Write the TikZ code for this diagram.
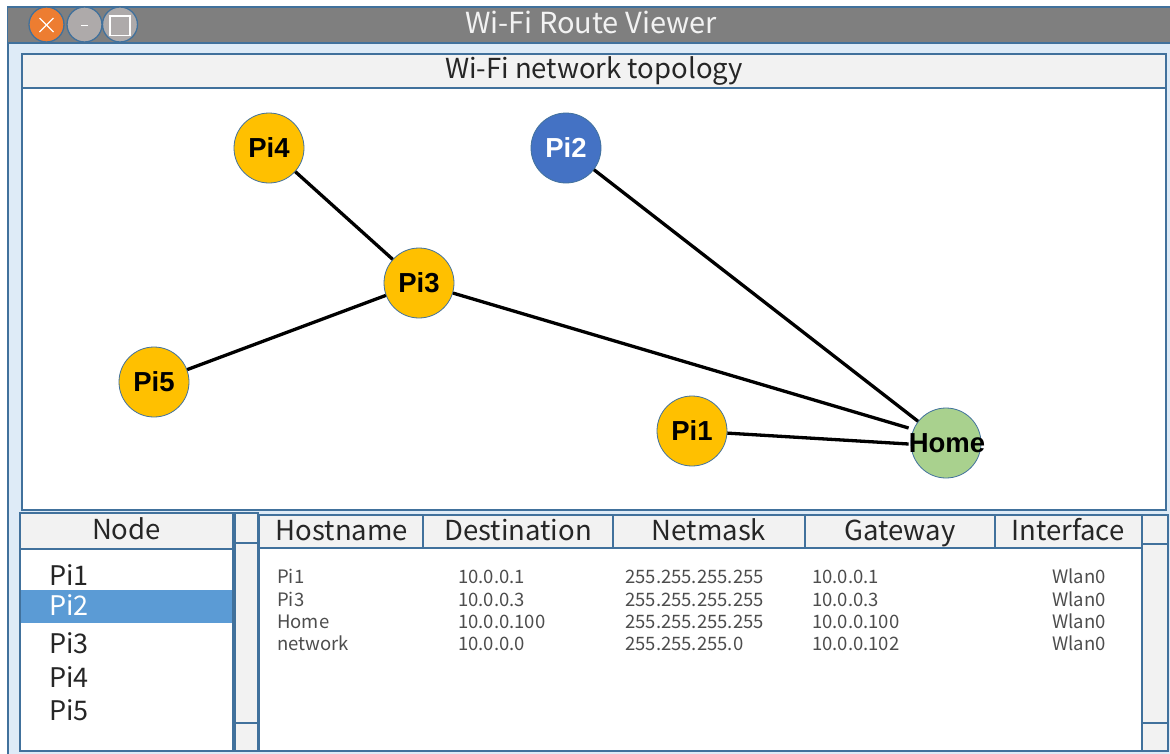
\documentclass[tikz,border=0pt]{standalone}
\usepackage{fontspec}
\setmainfont{Noto Sans CJK JP}
\newfontfamily\boldlabel{Liberation Sans}[BoldFont=* Bold]
\definecolor{frame}{HTML}{41719C}
\definecolor{titlegray}{HTML}{7F7F7F}
\definecolor{winbg}{HTML}{DEEBF7}
\definecolor{panelgray}{HTML}{F2F2F2}
\definecolor{piorange}{HTML}{FFC000}
\definecolor{piblue}{HTML}{4472C4}
\definecolor{homegreen}{HTML}{A9D18E}
\definecolor{closeorange}{HTML}{ED7D31}
\definecolor{btngray}{HTML}{AEAAAA}
\definecolor{selblue}{HTML}{5B9BD5}
\definecolor{txt}{HTML}{262626}
\definecolor{datatxt}{HTML}{4D4D4D}
\tikzset{
  panel/.style={draw=frame, line width=1.3pt},
  winbtn/.style={circle, draw=frame, line width=1.3pt, minimum size=35pt, inner sep=0pt},
  hostnode/.style={circle, draw=frame, line width=0.8pt, minimum size=70pt, inner sep=0pt,
    font=\boldlabel\bfseries\fontsize{27.5}{30}\selectfont},
  link/.style={line width=3.3pt, black},
  headtxt/.style={font=\fontsize{27.5}{30}\selectfont, text=txt, inner sep=0pt, anchor=base},
  listtxt/.style={font=\fontsize{27}{30}\selectfont, text=txt, anchor=base west, inner sep=0pt},
  datatext/.style={font=\fontsize{18.5}{20}\selectfont, text=datatxt, anchor=base west, inner sep=0pt},
}
\begin{document}
\begin{tikzpicture}[x=1pt,y=-1pt]
\useasboundingbox (0,0) rectangle (1170,753);

% window body and title bar
\fill[winbg] (8,43) rectangle (1172,756);
\draw[panel] (8,756) -- (8,7) -- (1172,7);
\fill[titlegray] (8,7) rectangle (1172,43);
\draw[panel] (8,7) -- (1172,7);
\draw[panel] (8,43) -- (1172,43);
\node[headtxt, text=panelgray, font=\fontsize{29}{32}\selectfont] (title) at (591,33) {Wi-Fi Route Viewer};

% window buttons
\node[winbtn, fill=closeorange] (btnclose) at (46.5,24.5) {};
\node[winbtn, fill=btngray] (btnmin) at (84.5,24.5) {};
\node[winbtn, fill=btngray] (btnmax) at (120,24.5) {};
\draw[white, line width=1.2pt] ([shift={(-7,-6.5)}]btnclose.center) -- ([shift={(7,7.5)}]btnclose.center);
\draw[white, line width=1.2pt] ([shift={(-7,7.5)}]btnclose.center) -- ([shift={(7,-6.5)}]btnclose.center);
\draw[white, line width=1.2pt] ([shift={(-3.5,1)}]btnmin.center) -- ([shift={(3.5,1)}]btnmin.center);
\draw[white, line width=1.4pt, fill=btngray] ([shift={(-10,-8.5)}]btnmax.center) rectangle ([shift={(10,11)}]btnmax.center);

% topology panel
\draw[panel, fill=panelgray] (22,54) rectangle (1166,88);
\draw[panel, fill=white] (22,88) rectangle (1166,510);
\node[headtxt] (topohead) at (594,78) {Wi-Fi network topology};

% hosts
\node[hostnode, fill=piorange] (pi4) at (269,148) {Pi4};
\node[hostnode, fill=piblue, text=white] (pi2) at (566,148) {Pi2};
\node[hostnode, fill=piorange] (pi3) at (419,283) {Pi3};
\node[hostnode, fill=piorange] (pi5) at (154,382) {Pi5};
\node[hostnode, fill=piorange] (pi1) at (692,431) {Pi1};
\node[hostnode, fill=homegreen] (home) at (946,443) {};

% links
\draw[link] (pi4) -- (pi3);
\draw[link] (pi3) -- (pi5);
\draw[link] (pi2) -- (home);
\node[font=\boldlabel\bfseries\fontsize{27.5}{30}\selectfont, inner sep=0pt] (homelbl) at (947,443) {Home};
\draw[link] (pi3) -- (homelbl.west |- 0,428) coordinate (e3);
\draw[link] (pi1) -- (homelbl.west |- 0,444) coordinate (e1);

% node list
\draw[panel, fill=panelgray] (20,513) rectangle (233,549);
\draw[panel, fill=white] (20,549) rectangle (233,751);
\node[headtxt] (nodehead) at (126.5,539) {Node};
\fill[selblue] (21,590) rectangle (232,623);
\node[listtxt] (li1) at (49,585) {Pi1};
\node[listtxt, text=white] (li2) at (49,615) {Pi2};
\node[listtxt] (li3) at (49,653) {Pi3};
\node[listtxt] (li4) at (49,687) {Pi4};
\node[listtxt] (li5) at (49,720) {Pi5};

% left scroll bar
\draw[panel, fill=panelgray] (235,513) rectangle (258,751);
\draw[panel] (235,543) -- (258,543);
\draw[panel] (235,723) -- (258,723);

% route table
\draw[panel, fill=white] (259,515) rectangle (1142,751);
\draw[panel, fill=panelgray] (259,515) rectangle (423,548);
\draw[panel, fill=panelgray] (423,515) rectangle (613,548);
\draw[panel, fill=panelgray] (613,515) rectangle (805,548);
\draw[panel, fill=panelgray] (805,515) rectangle (995,548);
\draw[panel, fill=panelgray] (995,515) rectangle (1142,548);
\node[headtxt] (hhost) at (342,540) {Hostname};
\node[headtxt] (hdest) at (518,540) {Destination};
\node[headtxt] (hmask) at (709,540) {Netmask};
\node[headtxt] (hgw) at (900,540) {Gateway};
\node[headtxt] (hif) at (1068,540) {Interface};

% right scroll bar
\draw[panel, fill=panelgray] (1142,515) rectangle (1168,751);
\draw[panel] (1142,544) -- (1168,544);
\draw[panel] (1142,723) -- (1168,723);

% table rows
\foreach \y/\h/\d/\m/\g [count=\i] in {
  583/Pi1/10.0.0.1/255.255.255.255/10.0.0.1,
  606/Pi3/10.0.0.3/255.255.255.255/10.0.0.3,
  628/Home/10.0.0.100/255.255.255.255/10.0.0.100,
  650/network/10.0.0.0/255.255.255.0/10.0.0.102}{
  \node[datatext] (host\i) at (277,\y) {\h};
  \node[datatext] (dest\i) at (458,\y) {\d};
  \node[datatext] (mask\i) at (625,\y) {\m};
  \node[datatext] (gw\i) at (812,\y) {\g};
  \node[datatext] (if\i) at (1052,\y) {Wlan0};
}
\end{tikzpicture}
\end{document}
